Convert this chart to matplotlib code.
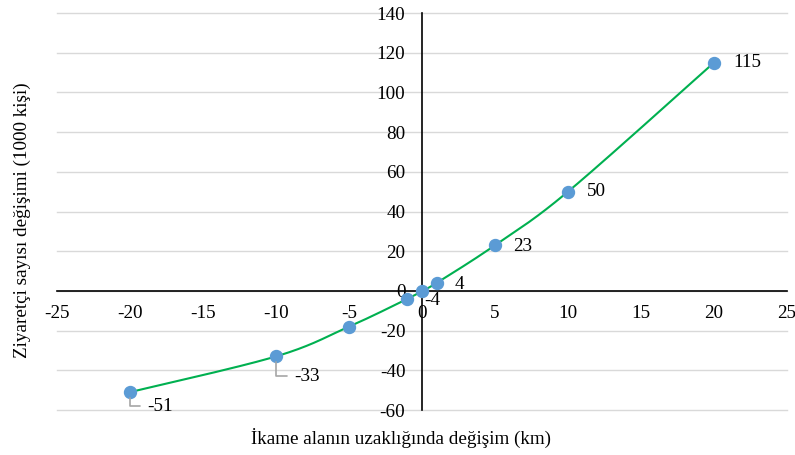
import numpy as np
import matplotlib.pyplot as plt

plt.rcParams["font.family"] = ["Liberation Serif", "DejaVu Serif"]

# data
distance_change = [-20, -10, -5, -1, 0, 1, 5, 10, 20]
visitor_change = [-51, -33, -18, -4, 0, 4, 23, 50, 115]
x_ticks = [-25, -20, -15, -10, -5, 0, 5, 10, 15, 20, 25]
y_ticks = [-60, -40, -20, 0, 20, 40, 60, 80, 100, 120, 140]

# data labels: (index of point, text, offset in px, leader line)
point_labels = [
    (0, "-51", (30, -14), True),
    (1, "-33", (31, -20), True),
    (3, "-4", (25, -2), False),
    (5, "4", (23, -2), False),
    (6, "23", (28, -1), False),
    (7, "50", (28, 0), False),
    (8, "115", (33, 0), False),
]

FS = 13.8


def smooth_curve(xs, ys, n=40):
    # Catmull-Rom style bezier, like Excel's "smoothed line"
    xs = np.asarray(xs, float)
    ys = np.asarray(ys, float)
    px, py = [], []
    for i in range(len(xs) - 1):
        i0 = max(i - 1, 0)
        i3 = min(i + 2, len(xs) - 1)
        p0 = np.array([xs[i0], ys[i0]])
        p1 = np.array([xs[i], ys[i]])
        p2 = np.array([xs[i + 1], ys[i + 1]])
        p3 = np.array([xs[i3], ys[i3]])
        c1 = p1 + (p2 - p0) / 6
        c2 = p2 - (p3 - p1) / 6
        t = np.linspace(0, 1, n)[:, None]
        seg = ((1 - t) ** 3) * p1 + 3 * ((1 - t) ** 2) * t * c1 + 3 * (1 - t) * t ** 2 * c2 + t ** 3 * p2
        px.extend(seg[:, 0])
        py.extend(seg[:, 1])
    return px, py


fig = plt.figure(figsize=(7.95, 4.55), dpi=100)
ax = fig.add_axes([0.0717, 0.0989, 0.9182, 0.8725])

cx, cy = smooth_curve(distance_change, visitor_change)
ax.plot(cx, cy, color="#00B050", lw=1.5, zorder=3)
ax.plot(distance_change, visitor_change, "o", color="#5B9BD5", ms=8.6, zorder=4)

for idx, txt, (dx, dy), leader in point_labels:
    kw = {}
    if leader:
        kw["arrowprops"] = dict(arrowstyle="-", color="#A6A6A6", lw=1.2,
                                connectionstyle="angle,angleA=0,angleB=90,rad=0",
                                relpos=(0, 0.5), shrinkA=3, shrinkB=4)
    ax.annotate(txt, (distance_change[idx], visitor_change[idx]),
                xytext=(dx * 0.72, dy * 0.72), textcoords="offset points",
                ha="center", va="center", fontsize=FS, zorder=5, **kw)

ax.set_xlim(-25, 25)
ax.set_ylim(-60, 140)
ax.set_xticks(x_ticks)
ax.set_yticks(y_ticks)
ax.set_xticklabels([str(v) for v in x_ticks])
ax.set_yticklabels([str(v) for v in y_ticks])

ax.spines["left"].set_position(("data", 0))
ax.spines["bottom"].set_position(("data", 0))
ax.spines["top"].set_visible(False)
ax.spines["right"].set_visible(False)
ax.spines["left"].set_linewidth(1.2)
ax.spines["bottom"].set_linewidth(1.2)
ax.tick_params(axis="both", length=0, labelsize=FS)
ax.tick_params(axis="y", pad=12)
ax.tick_params(axis="x", pad=10)

ax.grid(axis="y", color="#D9D9D9", lw=1)
ax.set_axisbelow(True)
for gl in ax.get_ygridlines():
    gl.set_clip_on(False)

fig.text(0.505, 0.037, "İkame alanın uzaklığında değişim (km)", ha="center", va="center", fontsize=FS)
fig.text(0.028, 0.516, "Ziyaretçi sayısı değişimi (1000 kişi)", ha="center", va="center",
         rotation=90, fontsize=FS)

fig.savefig("out.png", dpi=100)
